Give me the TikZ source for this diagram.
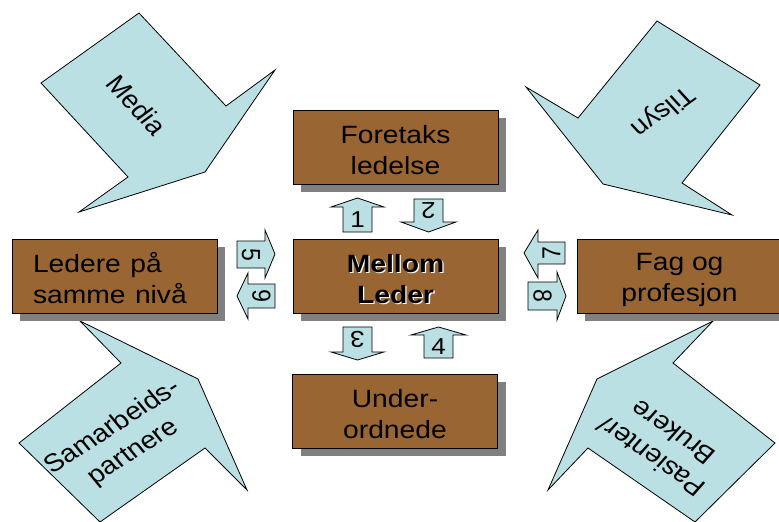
\documentclass[tikz,border=0pt]{standalone}
\usepackage{fontspec}
\setmainfont{Liberation Sans}
\usepackage{graphicx}
\usetikzlibrary{shadows}

\definecolor{boxbrown}{HTML}{996633}
\definecolor{callcyan}{HTML}{BBE0E3}
\definecolor{shadowgrey}{HTML}{808080}

% horizontally widened text
\newcommand\wide[1]{\scalebox{1.13}[1]{#1}}
% two centred lines with fixed baselines inside a 74pt box
\newcommand\twolines[2]{\rule{0pt}{25pt}\wide{#1}\\\wide{#2}\rule[-2pt]{0pt}{2pt}}
\newcommand\labelfont{\fontsize{25}{31}\selectfont}
\newcommand\digitfont{\fontsize{23}{23}\selectfont}

\begin{document}
\begin{tikzpicture}[x=1pt,y=-1pt,
  boxtext/.style={font=\labelfont, align=center, inner sep=0pt, minimum height=74pt},
  unitbox/.style={boxtext, draw=black, line width=0.8pt, fill=boxbrown,
    minimum width=205pt,
    drop shadow={shadow xshift=8pt, shadow yshift=-8pt, opacity=1, fill=shadowgrey, draw=none}},
  flow/.style={draw=black, line width=0.8pt, fill=callcyan, line join=miter},
  numtag/.style={font=\digitfont, inner sep=0pt, xscale=1.13},
  bigtag/.style={font=\labelfont, align=center, inner sep=0pt, xscale=1.13}
]
\useasboundingbox (0,0) rectangle (779,522);

% ---- large callout arrows in the corners ----
\draw[flow] (139,13) -- (226,106) -- (275,70) -- (205,172) -- (79,212) -- (128,177) -- (41,83) -- cycle;
\draw[flow] (657,21) -- (760,85) -- (682,183) -- (732,215) -- (603,184) -- (526,87) -- (578,118) -- cycle;
\draw[flow] (80,321) -- (121,363) -- (19,443) -- (100,522) -- (205,448) -- (247,490) -- (198,379) -- cycle;
\draw[flow] (713,321) -- (673,363) -- (775,443) -- (695,522) -- (588,448) -- (548,490) -- (597,379) -- cycle;

\node[bigtag, rotate=-50] (media) at (137,105) {Media};
\node[bigtag, rotate=-141] (tilsyn) at (662,111) {Tilsyn};
\node[bigtag, rotate=36] (samarb) at (123,440) {Samarbeids-\\partnere};
\node[bigtag, rotate=142] (pasient) at (662,445) {Pasienter/\\Brukere};

% ---- boxes ----
\node[unitbox] (foretak) at (395.5,147) {\twolines{Foretaks}{ledelse}};
\node[unitbox] (mellom) at (395.5,276) {};
\node[boxtext, white, font=\labelfont\bfseries] (mellomglow) at ([shift={(1.3,1.3)}]mellom.center) {\twolines{Mellom}{Leder}};
\node[boxtext, font=\labelfont\bfseries] (mellomtext) at (mellom.center) {\twolines{Mellom}{Leder}};
\node[unitbox] (under) at (395,411) {\twolines{Under-}{ordnede}};
\node[unitbox, align=left, text width=163pt] (ledere) at (114.5,276) {\twolines{Ledere på}{samme nivå}};
\node[unitbox] (fag) at (679.5,276) {\twolines{Fag og}{profesjon}};

% ---- small numbered block arrows ----
\draw[flow] (357.5,198) -- (384,207) -- (372,207) -- (372,232) -- (343,232) -- (343,207) -- (331,207) -- cycle;
\draw[flow] (428.5,232) -- (456,222) -- (443,222) -- (443,199) -- (414,199) -- (414,222) -- (401,222) -- cycle;
\draw[flow] (357.5,360) -- (384,352) -- (372,352) -- (372,327) -- (343,327) -- (343,352) -- (331,352) -- cycle;
\draw[flow] (438.5,327) -- (466,335) -- (453,335) -- (453,358) -- (424,358) -- (424,335) -- (411,335) -- cycle;
\draw[flow] (275,254) -- (265,230) -- (265,241) -- (237,241) -- (237,268) -- (265,268) -- (265,278) -- cycle;
\draw[flow] (237,296) -- (248,273) -- (248,284) -- (275,284) -- (275,308) -- (248,308) -- (248,319) -- cycle;
\draw[flow] (524,253) -- (538,230) -- (538,242) -- (565,242) -- (565,264) -- (538,264) -- (538,278) -- cycle;
\draw[flow] (566,296) -- (557,272) -- (557,282) -- (528,282) -- (528,310) -- (557,310) -- (557,320) -- cycle;

\node[numtag] (n1) at (357.5,220) {1};
\node[numtag, rotate=180] (n2) at (428.5,210.5) {2};
\node[numtag, rotate=180] (n3) at (357.5,339.5) {3};
\node[numtag] (n4) at (438.5,347) {4};
\node[numtag, rotate=-90] (n5) at (251,254.5) {5};
\node[numtag, rotate=90] (n6) at (261.5,296) {6};
\node[numtag, rotate=90] (n7) at (551.5,253) {7};
\node[numtag, rotate=-90] (n8) at (542.5,296) {8};
\end{tikzpicture}
\end{document}
